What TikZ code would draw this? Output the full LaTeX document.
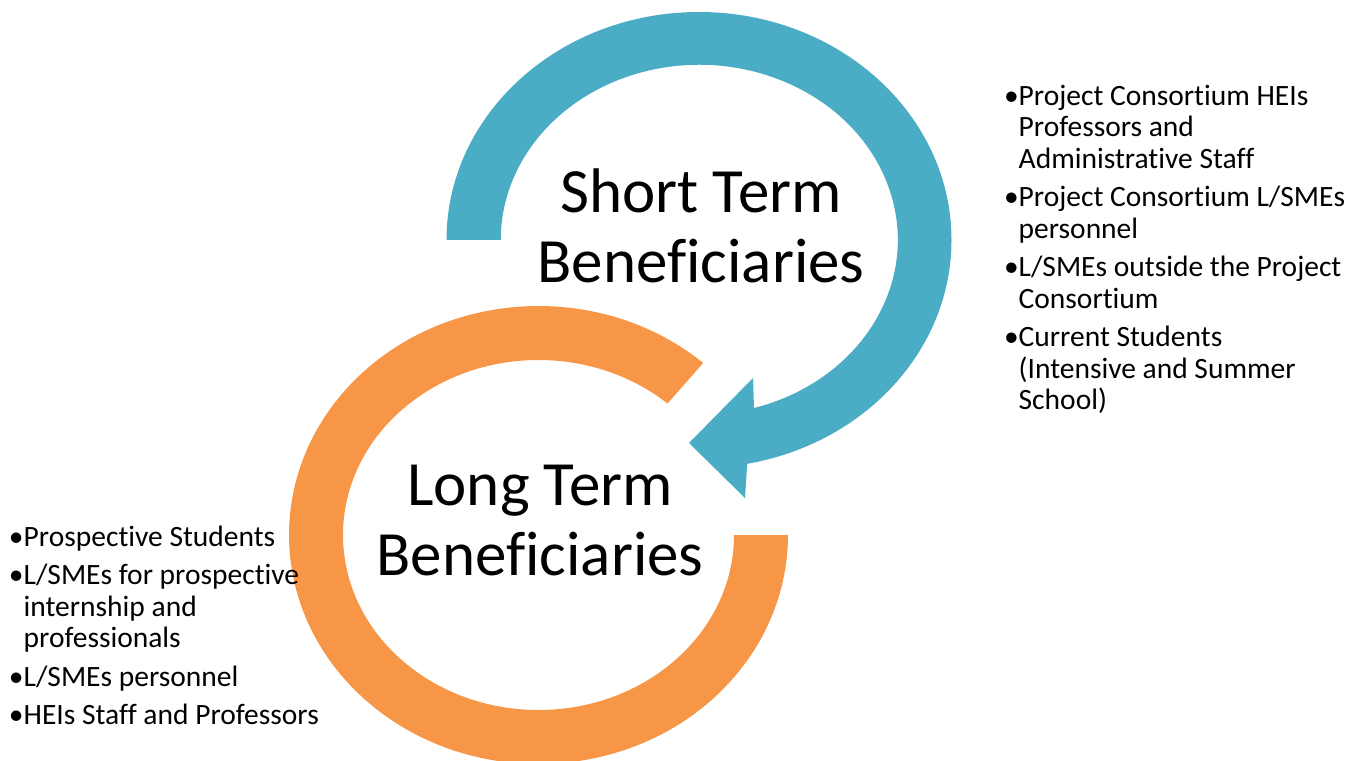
\documentclass[tikz,border=0pt]{standalone}
\usepackage{fontspec}
\setmainfont{Carlito}[Ligatures={NoCommon,NoRare,NoContextual}]
\definecolor{stblue}{RGB}{75,172,198}
\definecolor{ltorange}{RGB}{247,150,70}
\newcommand{\bul}{\textbullet}

\begin{document}
\begin{tikzpicture}[x=1pt,y=1pt]
\tikzstyle{every node}=[inner sep=0pt,outer sep=0pt];
\tikzstyle{title}=[align=center,font=\fontsize{63}{70}\selectfont];
\tikzstyle{list}=[anchor=base west,font=\fontsize{29.5}{31.5}\selectfont];
\useasboundingbox (0,0) rectangle (1362,-760);
% long term ring, open towards the arrow head
\fill[ltorange] (538.5,-535) ++(48.7:249.5 and 229)
  arc[start angle=48.7,end angle=360,x radius=249.5,y radius=229] -- ++(-54,0)
  arc[start angle=360,end angle=48.7,x radius=195.5,y radius=175] -- cycle;
% short term circular arrow
\fill[stblue] (699,-240) ++(180:252.5 and 228)
  arc[start angle=180,end angle=-79,x radius=252.5,y radius=228]
  -- (745,-498) -- (689,-443) -- (753,-378) -- (754,-408)
  arc[start angle=-74,end angle=180,x radius=198.5,y radius=175] -- cycle;
\node[title] (st) at (701,-226) {Short Term\\Beneficiaries};
\node[title] (lt) at (540,-521) {Long Term\\Beneficiaries};
\node[list] (stlist) at (1004,-105) {\begin{tabular}[t]{@{}l@{}l@{}}
\bul&Project Consortium HEIs\\
&Professors and\\
&Administrative Staff\\[7pt]
\bul&Project Consortium L/SMEs\\
&personnel\\[7pt]
\bul&L/SMEs outside the Project\\
&Consortium\\[7pt]
\bul&Current Students\\
&(Intensive and Summer\\
&School)
\end{tabular}};
\node[list] (ltlist) at (9,-546) {\begin{tabular}[t]{@{}l@{}l@{}}
\bul&Prospective Students\\[7pt]
\bul&L/SMEs for prospective\\
&internship and\\
&professionals\\[7pt]
\bul&L/SMEs personnel\\[7pt]
\bul&HEIs Staff and Professors
\end{tabular}};
\end{tikzpicture}
\end{document}
